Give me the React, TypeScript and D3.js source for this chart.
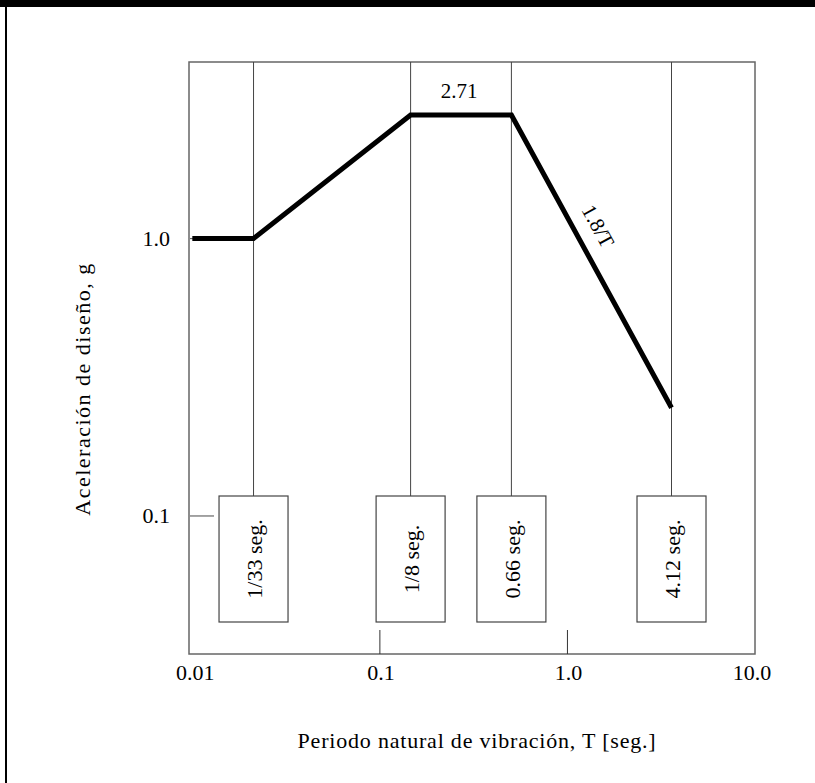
import React from "react";
import { scaleLog, line } from "d3";

// periods (x) and design acceleration (y)
const periodTicks = [0.01, 0.1, 1, 10];
const periodTickLabels = ["0.01", "0.1", "1.0", "10.0"];
const accelTicks = [0.1, 1];
const accelTickLabels = ["0.1", "1.0"];

const spectrumT = [0.01, 0.0212, 0.1458, 0.5026, 3.588];
const spectrumA = [1.0, 1.0, 2.79, 2.79, 0.2455];

const cornerPeriods = [0.0212, 0.1458, 0.5026, 3.588];
const cornerLabels = ["1/33 seg.", "1/8 seg.", "0.66 seg.", "4.12 seg."];

const plateauLabel = "2.71";
const decayLabel = "1.8/T";

const W = 815;
const H = 783;
const FONT = "Liberation Serif, Times New Roman, Times, serif";

export default function App() {
  document.body.style.margin = "0";

  const left = 189;
  const right = 755;
  const top = 62;
  const bottom = 654;

  const x = scaleLog().domain([0.0096, 10]).range([left, right]);
  const y = scaleLog().domain([0.0318, 4.33]).range([bottom, top]);

  const pts: [number, number][] = spectrumT.map((t, i) => [x(t), y(spectrumA[i])]);
  const path = line()(pts) || "";

  // boxes holding the corner period labels
  const boxTop = 496;
  const boxH = 126;
  const boxW = 69;
  const tickLen = 24;

  // 1.8/T label along the descending branch, on its upper-right side
  const p1 = pts[3];
  const p2 = pts[4];
  const dx = p2[0] - p1[0];
  const dy = p2[1] - p1[1];
  const len = Math.sqrt(dx * dx + dy * dy);
  const ang = (Math.atan2(dy, dx) * 180) / Math.PI;
  const ux = dx / len;
  const uy = dy / len;
  const tPos = 0.417;
  const off = 23;
  const lx = p1[0] + ux * len * tPos + uy * off;
  const ly = p1[1] + uy * len * tPos - ux * off;

  const plateauX = x(Math.sqrt(spectrumT[2] * spectrumT[3]));
  const txt = { fontFamily: FONT };

  return (
    <svg width={W} height={H} style={{ display: "block", background: "#fff" }}>
      <rect x={0} y={0} width={W} height={7} fill="#000" />
      <rect x={5} y={0} width={2} height={H} fill="#000" />

      {/* frame */}
      <rect x={left} y={top} width={right - left} height={bottom - top} fill="none" stroke="#666" strokeWidth={1.5} />

      {/* vertical corner lines and label boxes */}
      {cornerPeriods.map((t, i) => (
        <g key={i}>
          <line x1={x(t)} x2={x(t)} y1={top} y2={boxTop} stroke="#444" strokeWidth={1} />
          <rect x={x(t) - boxW / 2} y={boxTop} width={boxW} height={boxH} fill="#fff" stroke="#444" strokeWidth={1.2} />
          <text
            transform={`translate(${x(t) + 1},${boxTop + boxH / 2}) rotate(-90)`}
            textAnchor="middle"
            dy="0.35em"
            fontSize={22}
            fill="#000"
            style={txt}
          >
            {cornerLabels[i]}
          </text>
        </g>
      ))}

      {/* interior ticks */}
      {periodTicks.slice(1, 3).map((t, i) => (
        <line key={"xt" + i} x1={x(t)} x2={x(t)} y1={bottom} y2={bottom - tickLen} stroke="#333" strokeWidth={1} />
      ))}
      {accelTicks.map((a, i) => (
        <line key={"yt" + i} x1={left + 1} x2={left + 1 + tickLen} y1={y(a)} y2={y(a)} stroke="#666" strokeWidth={1.2} />
      ))}

      {/* spectrum */}
      <path d={path} fill="none" stroke="#000" strokeWidth={5} strokeLinejoin="miter" />

      {/* tick labels */}
      {periodTicks.map((t, i) => (
        <text key={"xl" + i} x={x(t) + (i === 0 ? 3 : i === 3 ? -3 : 1)} y={680} textAnchor="middle" fontSize={22} fill="#000" style={txt}>
          {periodTickLabels[i]}
        </text>
      ))}
      {accelTicks.map((a, i) => (
        <text key={"yl" + i} x={170} y={y(a) + 7} textAnchor="end" fontSize={22} fill="#000" style={txt}>
          {accelTickLabels[i]}
        </text>
      ))}

      {/* annotations */}
      <text x={plateauX - 2} y={y(spectrumA[2]) - 17} textAnchor="middle" fontSize={21} fill="#000" style={txt}>
        {plateauLabel}
      </text>
      <text
        transform={`translate(${lx},${ly}) rotate(${ang})`}
        textAnchor="middle"
        dy="0.35em"
        fontSize={21}
        fill="#000"
        style={txt}
      >
        {decayLabel}
      </text>

      {/* axis titles */}
      <text x={477} y={748} textAnchor="middle" fontSize={22} letterSpacing={0.8} fill="#000" style={txt}>
        Periodo natural de vibración, T [seg.]
      </text>
      <text
        transform={`translate(90,389) rotate(-90)`}
        textAnchor="middle"
        fontSize={22}
        letterSpacing={1.5}
        fill="#000"
        style={txt}
      >
        Aceleración de diseño, g
      </text>
    </svg>
  );
}
